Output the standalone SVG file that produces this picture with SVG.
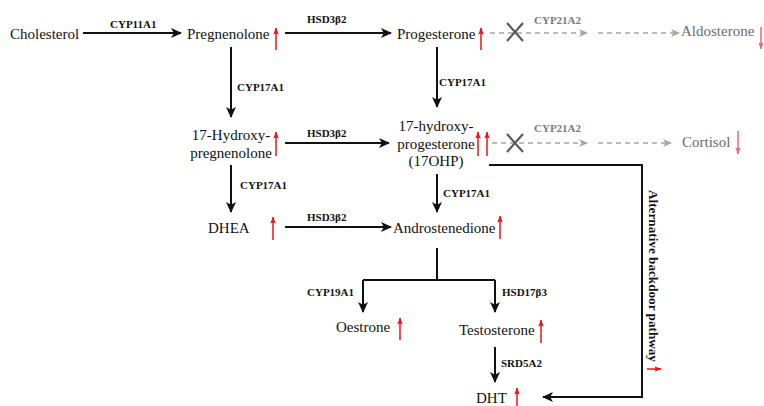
<svg xmlns="http://www.w3.org/2000/svg" width="764" height="406" viewBox="0 0 764 406">
<style>
.n{font-family:"Liberation Serif","Times New Roman",serif;font-size:15px;fill:#111}
.ng{font-family:"Liberation Serif","Times New Roman",serif;font-size:15px;fill:#6b6b6b}
.e{font-family:"Liberation Serif","Times New Roman",serif;font-size:11px;font-weight:bold;fill:#111}
.eg{font-family:"Liberation Serif","Times New Roman",serif;font-size:11px;font-weight:bold;fill:#7a7a7a}
.c{fill:none;stroke:#111;stroke-width:2}
.ca{fill:none;stroke:#111;stroke-width:2;marker-end:url(#ah)}
.d{fill:none;stroke:#a6a6a6;stroke-width:1.6;stroke-dasharray:5 4;marker-end:url(#gh)}
.x{stroke:#595959;stroke-width:2.2}
.up{stroke:#e8141c;stroke-width:1.5;marker-end:url(#rh)}
.dn{stroke:#e66a6a;stroke-width:1.5;marker-end:url(#rl)}
</style>
<defs>
<marker id="ah" markerUnits="userSpaceOnUse" markerWidth="12" markerHeight="11" refX="10" refY="5.5" orient="auto"><path d="M0,0.5 L11,5.5 L0,10.5 L2.8,5.5 z" fill="#111"/></marker>
<marker id="gh" markerUnits="userSpaceOnUse" markerWidth="10" markerHeight="9" refX="8" refY="4.5" orient="auto"><path d="M0,0.5 L9,4.5 L0,8.5 L2.5,4.5 z" fill="#a6a6a6"/></marker>
<marker id="rh" markerUnits="userSpaceOnUse" markerWidth="8" markerHeight="6" refX="6.5" refY="2.75" orient="auto"><path d="M0,0 L7,2.75 L0,5.5 L1.2,2.75 z" fill="#e8141c"/></marker>
<marker id="rl" markerUnits="userSpaceOnUse" markerWidth="8" markerHeight="6" refX="6.5" refY="2.75" orient="auto"><path d="M0,0 L7,2.75 L0,5.5 L1.2,2.75 z" fill="#e66a6a"/></marker>
</defs>
<rect width="764" height="406" fill="#fff"/>

<g id="connectors">
<path class="ca" d="M83,33 H181"/>
<path class="ca" d="M285,33 H391"/>
<path class="ca" d="M231,47 V117"/>
<path class="ca" d="M437,47 V107"/>
<path class="ca" d="M285,143 H389"/>
<path class="ca" d="M231,165 V212"/>
<path class="ca" d="M437,174 V212"/>
<path class="ca" d="M285,227 H391"/>
<path class="c" d="M437,248 V280 M363,280 H495"/>
<path class="ca" d="M363,280 V312"/>
<path class="ca" d="M495,280 V312"/>
<path class="ca" d="M495,347 V382"/>
<path class="ca" d="M489,165 H642 V397 H543"/>
<path class="d" d="M490,33 H587"/>
<path class="d" d="M598,33 H679"/>
<path class="d" d="M492,143 H587"/>
<path class="d" d="M598,143 H671"/>
<path class="x" d="M507,23 L523,41 M523,23 L507,41"/>
<path class="x" d="M507,134 L523,152 M523,134 L507,152"/>
<text class="e" x="110" y="28">CYP11A1</text>
<text class="e" x="307" y="23">HSD3β2</text>
<text class="e" x="237" y="91">CYP17A1</text>
<text class="e" x="439" y="86">CYP17A1</text>
<text class="e" x="307" y="137">HSD3β2</text>
<text class="e" x="240" y="189">CYP17A1</text>
<text class="e" x="443" y="197">CYP17A1</text>
<text class="e" x="307" y="221">HSD3β2</text>
<text class="e" x="307" y="296">CYP19A1</text>
<text class="e" x="502" y="296">HSD17β3</text>
<text class="e" x="501" y="367">SRD5A2</text>
<text class="eg" x="534" y="24">CYP21A2</text>
<text class="eg" x="534" y="132">CYP21A2</text>
<text class="e" transform="translate(649,276) rotate(90)" text-anchor="middle" style="font-size:13.2px">Alternative backdoor pathway</text>
<line class="up" x1="647" y1="369" x2="661" y2="369"/>
</g>

<g id="cholesterol"><text class="n" x="10" y="39">Cholesterol</text></g>
<g id="pregnenolone"><text class="n" x="187" y="39">Pregnenolone</text><line class="up" x1="276" y1="50" x2="276" y2="28"/></g>
<g id="progesterone"><text class="n" x="397" y="39">Progesterone</text><line class="up" x1="481" y1="50" x2="481" y2="28"/></g>
<g id="aldosterone"><text class="ng" x="681" y="36">Aldosterone</text><line class="dn" x1="761" y1="27" x2="761" y2="49"/></g>
<g id="hydroxypregnenolone"><text class="n" x="231" y="140" text-anchor="middle">17-Hydroxy-</text><text class="n" x="231" y="158" text-anchor="middle">pregnenolone</text><line class="up" x1="276" y1="156" x2="276" y2="132"/></g>
<g id="ohp"><text class="n" x="436" y="131" text-anchor="middle">17-hydroxy-</text><text class="n" x="436" y="148.5" text-anchor="middle">progesterone</text><text class="n" x="436" y="166" text-anchor="middle">(17OHP)</text><line class="up" x1="478" y1="156" x2="478" y2="132"/><line class="up" x1="487" y1="156" x2="487" y2="132"/></g>
<g id="cortisol"><text class="ng" x="682" y="147">Cortisol</text><line class="dn" x1="738" y1="131" x2="738" y2="154"/></g>
<g id="dhea"><text class="n" x="208" y="233">DHEA</text><line class="up" x1="273" y1="240" x2="273" y2="217"/></g>
<g id="androstenedione"><text class="n" x="393" y="233">Androstenedione</text><line class="up" x1="500" y1="239" x2="500" y2="216"/></g>
<g id="oestrone"><text class="n" x="336" y="332">Oestrone</text><line class="up" x1="400" y1="340" x2="400" y2="318"/></g>
<g id="testosterone"><text class="n" x="459" y="335">Testosterone</text><line class="up" x1="541" y1="343" x2="541" y2="320"/></g>
<g id="dht"><text class="n" x="476" y="403">DHT</text><line class="up" x1="517" y1="406" x2="517" y2="388"/></g>
</svg>
